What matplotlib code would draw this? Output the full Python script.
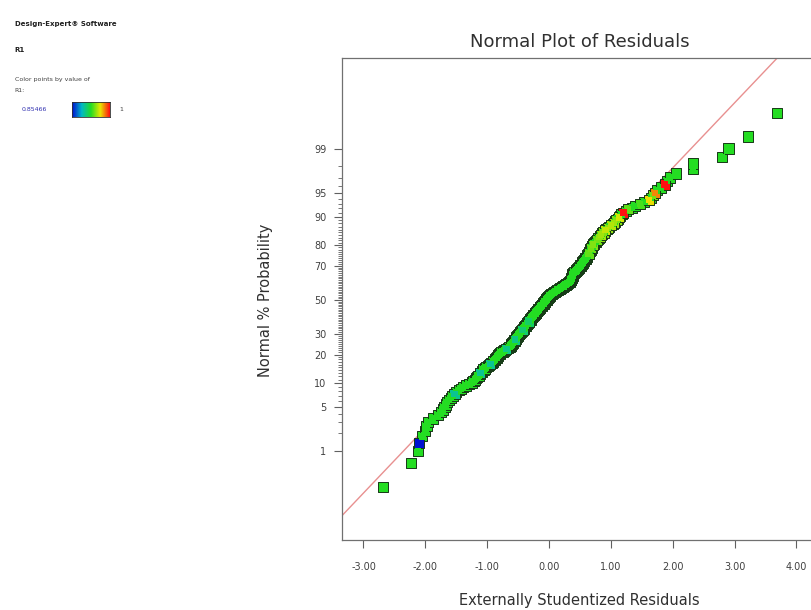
import numpy as np
import matplotlib
matplotlib.use('Agg')
import matplotlib.pyplot as plt
from matplotlib.colors import LinearSegmentedColormap
from statistics import NormalDist

# externally studentized residuals, sorted
residuals = [
    -2.69, -2.23, -2.12, -2.10,
    -2.05, -2.00, -1.98, -1.96,
    -1.88, -1.80, -1.75, -1.72, -1.69, -1.67, -1.65,
    -1.62, -1.59, -1.56, -1.53, -1.50,
    -1.46, -1.42, -1.39, -1.34, -1.29,
    -1.25, -1.22, -1.20, -1.18, -1.16,
    -1.14, -1.12, -1.11, -1.09, -1.08,
    -1.06, -1.04, -1.02, -0.99, -0.97,
    -0.95, -0.93, -0.91, -0.90, -0.88,
    -0.87, -0.85, -0.84, -0.83, -0.82,
    -0.80, -0.79, -0.77, -0.75, -0.73,
    -0.71, -0.69, -0.66, -0.64, -0.62,
    -0.62, -0.61, -0.60, -0.59, -0.58,
    -0.57, -0.56, -0.55, -0.54, -0.54,
    -0.53, -0.52, -0.51, -0.50, -0.49,
    -0.48, -0.47, -0.46, -0.45, -0.44,
    -0.43, -0.42, -0.41, -0.40, -0.40,
    -0.39, -0.38, -0.37, -0.36, -0.35,
    -0.34, -0.34, -0.33, -0.32, -0.31,
    -0.30, -0.29, -0.29, -0.28, -0.27,
    -0.26, -0.25, -0.24, -0.23, -0.22,
    -0.22, -0.21, -0.20, -0.19, -0.18,
    -0.17, -0.16, -0.15, -0.15, -0.14,
    -0.13, -0.12, -0.11, -0.10, -0.09,
    -0.08, -0.08, -0.07, -0.06, -0.05,
    -0.04, -0.03, -0.03, -0.02, -0.01,
    0.00, 0.01, 0.02, 0.03, 0.05,
    0.06, 0.08, 0.10, 0.11, 0.13,
    0.14, 0.16, 0.18, 0.19, 0.21,
    0.23, 0.24, 0.26, 0.27, 0.29,
    0.31, 0.32, 0.34, 0.34, 0.35,
    0.35, 0.36, 0.36, 0.37, 0.37,
    0.37, 0.38, 0.38, 0.38, 0.39,
    0.40, 0.41, 0.43, 0.44, 0.45,
    0.46, 0.47, 0.48, 0.49, 0.50,
    0.51, 0.52, 0.53, 0.54, 0.54,
    0.55, 0.56, 0.57, 0.58, 0.59,
    0.60, 0.61, 0.62, 0.62, 0.63,
    0.64, 0.65, 0.65, 0.66, 0.67,
    0.67, 0.68, 0.69, 0.70, 0.70,
    0.71, 0.72, 0.73, 0.75, 0.76,
    0.78, 0.79, 0.80, 0.82, 0.83,
    0.84, 0.86, 0.88, 0.90, 0.91,
    0.93, 0.95, 0.97, 1.00, 1.03,
    1.05, 1.07, 1.09, 1.11, 1.13,
    1.15, 1.17, 1.20, 1.24, 1.28,
    1.34, 1.39, 1.47, 1.54, 1.62,
    1.65, 1.68, 1.71, 1.74, 1.81,
    1.87, 1.91, 1.95, 2.05,
    2.33, 2.33, 2.80, 2.90, 3.22, 3.69,
]

# R1 colour value: most points mid (green), a few stand out
r1_default = 0.5
r1_idx = [3, 18, 32, 40, 56, 67, 80, 92,
          190, 196, 200, 205, 208, 210, 212, 214, 216, 218, 220,
          222, 224, 227, 229, 232, 234, 236, 237, 240]
r1_val = [0.0, 0.33, 0.33, 0.33, 0.35, 0.35, 0.38, 0.4,
          0.58, 0.6, 0.62, 0.6, 0.64, 0.66, 0.62, 0.7, 0.64, 0.68, 0.66,
          0.62, 0.72, 1.0, 0.58, 0.55, 0.76, 0.6, 0.86, 1.0]

prob_ticks = [1, 5, 10, 20, 30, 50, 70, 80, 90, 95, 99]
x_ticks = [-3, -2, -1, 0, 1, 2, 3, 4]

nd = NormalDist()
n = len(residuals)
x = np.array(residuals)
z = np.array([nd.inv_cdf((i + 0.5) / n) for i in range(n)])
cvals = np.full(n, r1_default)
cvals[r1_idx] = r1_val

# draw the unusual colours last so they stay visible
order = np.argsort(np.abs(cvals - r1_default), kind='stable')
x, z, cvals = x[order], z[order], cvals[order]

cmap = LinearSegmentedColormap.from_list('de', ['#0010d0', '#00b8c8', '#22dd22', '#e8e800', '#ff1010'])

fig = plt.figure(figsize=(8.12, 6.1), dpi=100)
ax = fig.add_axes([0.421, 0.115, 0.62, 0.79])

ax.set_xlim(-3.35, 4.79)
ax.set_ylim(-3.69, 3.72)

xl = np.array(ax.get_xlim())
ax.plot(xl, xl + 0.03, color='#e89090', lw=1.0, zorder=1)

# outlined squares, then the fills again on top so the dense band stays green
ax.scatter(x, z, c=cvals, cmap=cmap, vmin=0, vmax=1, marker='s', s=54,
           edgecolors='#173817', linewidths=0.7, zorder=3)
ax.scatter(x, z, c=cvals, cmap=cmap, vmin=0, vmax=1, marker='s', s=22,
           linewidths=0, zorder=4)

ax.set_xticks(x_ticks)
ax.set_xticklabels(['%.2f' % v for v in x_ticks])
ax.set_yticks([nd.inv_cdf(p / 100) for p in prob_ticks])
ax.set_yticklabels([str(p) for p in prob_ticks])
ax.set_yticks([nd.inv_cdf(p / 100) for p in range(1, 100) if p not in prob_ticks], minor=True)

ax.tick_params(axis='both', which='major', direction='out', length=6, width=0.8,
               color='#606060', labelsize=7, labelcolor='#404040')
ax.tick_params(axis='x', which='major', pad=10)
ax.tick_params(axis='y', which='major', pad=5)
ax.tick_params(axis='y', which='minor', direction='out', length=3, width=0.6, color='#606060')
for s in ax.spines.values():
    s.set_color('#707070')
    s.set_linewidth(0.9)

fig.text(0.714, 0.931, 'Normal Plot of Residuals', ha='center', va='center', fontsize=13, color='#303030')
fig.text(0.714, 0.015, 'Externally Studentized Residuals', ha='center', va='center', fontsize=10.5, color='#303030')
fig.text(0.327, 0.508, 'Normal % Probability', ha='center', va='center', rotation=90, fontsize=10.5, color='#303030')

# side legend
fig.text(0.018, 0.96, 'Design-Expert® Software', fontsize=5, fontweight='bold', color='#202020', va='center')
fig.text(0.018, 0.918, 'R1', fontsize=5, fontweight='bold', color='#202020', va='center')
fig.text(0.018, 0.87, 'Color points by value of', fontsize=4.5, color='#404040', va='center')
fig.text(0.018, 0.852, 'R1:', fontsize=4.5, color='#404040', va='center')
fig.text(0.027, 0.82, '0.85466', fontsize=4.5, color='#3030b0', va='center')
cax = fig.add_axes([0.089, 0.808, 0.046, 0.024])
cax.imshow(np.linspace(0, 1, 64)[None, :], cmap=cmap, aspect='auto')
cax.set_xticks([])
cax.set_yticks([])
for s in cax.spines.values():
    s.set_color('#303030')
    s.set_linewidth(0.6)
fig.text(0.147, 0.82, '1', fontsize=4.5, color='#404040', va='center')

plt.savefig('out.png', dpi=100)
